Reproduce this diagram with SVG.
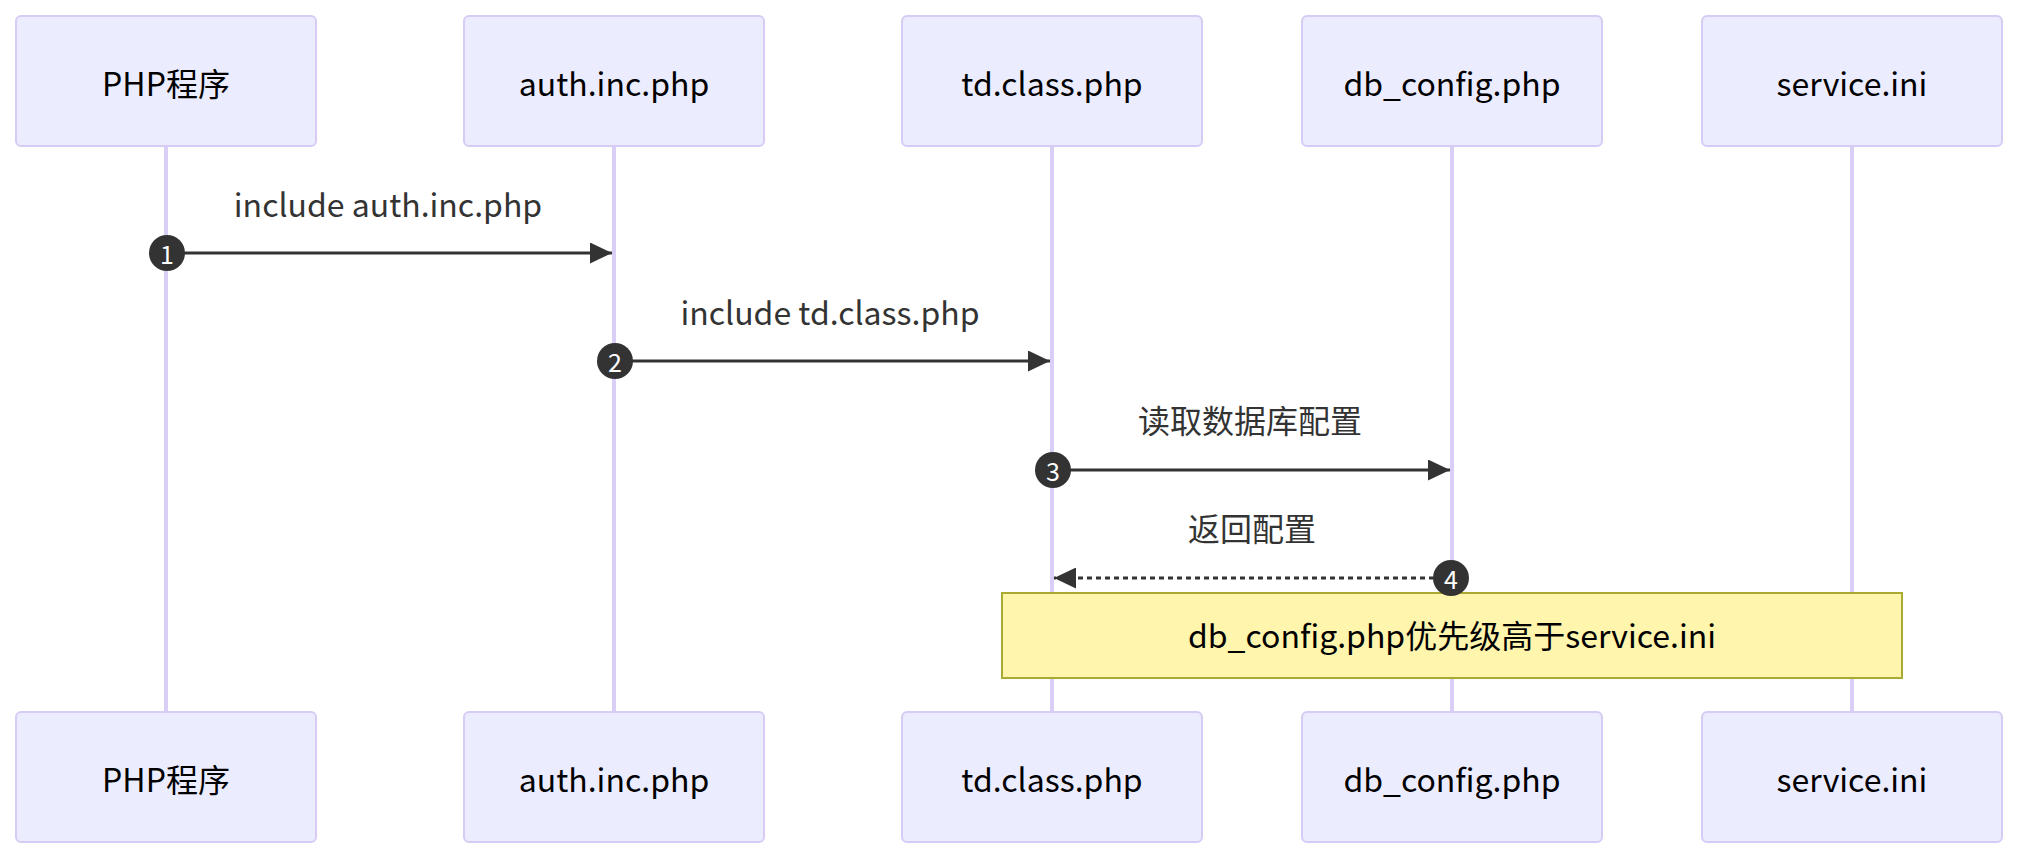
<svg xmlns="http://www.w3.org/2000/svg" width="2018" height="860" viewBox="0 0 2018 860">
<style>
.actor{fill:#ECECFF;stroke:#D6CCF5;stroke-width:2}
.atext{font-family:"Noto Sans CJK SC","Noto Sans",sans-serif;font-size:32px;fill:#000;text-anchor:middle;dominant-baseline:central}
.life{stroke:#D9CFF6;stroke-width:4}
.msg{stroke:#333;stroke-width:3;fill:none}
.mtext{font-family:"Noto Sans CJK SC","Noto Sans",sans-serif;font-size:32px;fill:#333;text-anchor:middle;dominant-baseline:central}
.seq{fill:#333}
.seqt{font-family:"Noto Sans CJK SC","Noto Sans",sans-serif;font-size:25px;fill:#fff;text-anchor:middle;dominant-baseline:central}
.note{fill:#FFF5AD;stroke:#AAAA33;stroke-width:2}
.ntext{font-family:"Noto Sans CJK SC","Noto Sans",sans-serif;font-size:32px;fill:#000;text-anchor:middle;dominant-baseline:central}
</style>
<defs>
<marker id="arr" markerWidth="22" markerHeight="21" refX="22" refY="10.5" orient="auto" markerUnits="userSpaceOnUse">
<path d="M0,0 L22,10.5 L0,21 Z" fill="#333"/>
</marker>
</defs>
<g id="lifelines">
<line class="life" x1="166" y1="145" x2="166" y2="712"/>
<line class="life" x1="614" y1="145" x2="614" y2="712"/>
<line class="life" x1="1052" y1="145" x2="1052" y2="712"/>
<line class="life" x1="1452" y1="145" x2="1452" y2="712"/>
<line class="life" x1="1852" y1="145" x2="1852" y2="712"/>
</g>
<g id="actor-php-top"><rect class="actor" x="16" y="16" width="300" height="130" rx="5"/><text class="atext" x="166" y="82">PHP程序</text></g>
<g id="actor-auth-top"><rect class="actor" x="464" y="16" width="300" height="130" rx="5"/><text class="atext" x="614" y="82">auth.inc.php</text></g>
<g id="actor-td-top"><rect class="actor" x="902" y="16" width="300" height="130" rx="5"/><text class="atext" x="1052" y="82">td.class.php</text></g>
<g id="actor-db-top"><rect class="actor" x="1302" y="16" width="300" height="130" rx="5"/><text class="atext" x="1452" y="82">db_config.php</text></g>
<g id="actor-svc-top"><rect class="actor" x="1702" y="16" width="300" height="130" rx="5"/><text class="atext" x="1852" y="82">service.ini</text></g>
<g id="note"><rect class="note" x="1002" y="593" width="900" height="85"/><text class="ntext" x="1452" y="634">db_config.php优先级高于service.ini</text></g>
<g id="connectors">
<text class="mtext" x="388" y="203">include auth.inc.php</text>
<line class="msg" x1="166" y1="253" x2="612" y2="253" marker-end="url(#arr)"/>
<circle class="seq" cx="167" cy="253" r="18"/><text class="seqt" x="167" y="253">1</text>
<text class="mtext" x="830" y="311">include td.class.php</text>
<line class="msg" x1="614" y1="361" x2="1050" y2="361" marker-end="url(#arr)"/>
<circle class="seq" cx="615" cy="361" r="18"/><text class="seqt" x="615" y="361">2</text>
<text class="mtext" x="1250" y="419">读取数据库配置</text>
<line class="msg" x1="1052" y1="470" x2="1450" y2="470" marker-end="url(#arr)"/>
<circle class="seq" cx="1053" cy="470" r="18"/><text class="seqt" x="1053" y="470">3</text>
<text class="mtext" x="1252" y="527">返回配置</text>
<line class="msg" x1="1452" y1="578" x2="1054" y2="578" stroke-dasharray="5,4" marker-end="url(#arr)"/>
<circle class="seq" cx="1451" cy="578" r="18"/><text class="seqt" x="1451" y="578">4</text>
</g>
<g id="actor-php-bottom"><rect class="actor" x="16" y="712" width="300" height="130" rx="5"/><text class="atext" x="166" y="778">PHP程序</text></g>
<g id="actor-auth-bottom"><rect class="actor" x="464" y="712" width="300" height="130" rx="5"/><text class="atext" x="614" y="778">auth.inc.php</text></g>
<g id="actor-td-bottom"><rect class="actor" x="902" y="712" width="300" height="130" rx="5"/><text class="atext" x="1052" y="778">td.class.php</text></g>
<g id="actor-db-bottom"><rect class="actor" x="1302" y="712" width="300" height="130" rx="5"/><text class="atext" x="1452" y="778">db_config.php</text></g>
<g id="actor-svc-bottom"><rect class="actor" x="1702" y="712" width="300" height="130" rx="5"/><text class="atext" x="1852" y="778">service.ini</text></g>
</svg>
